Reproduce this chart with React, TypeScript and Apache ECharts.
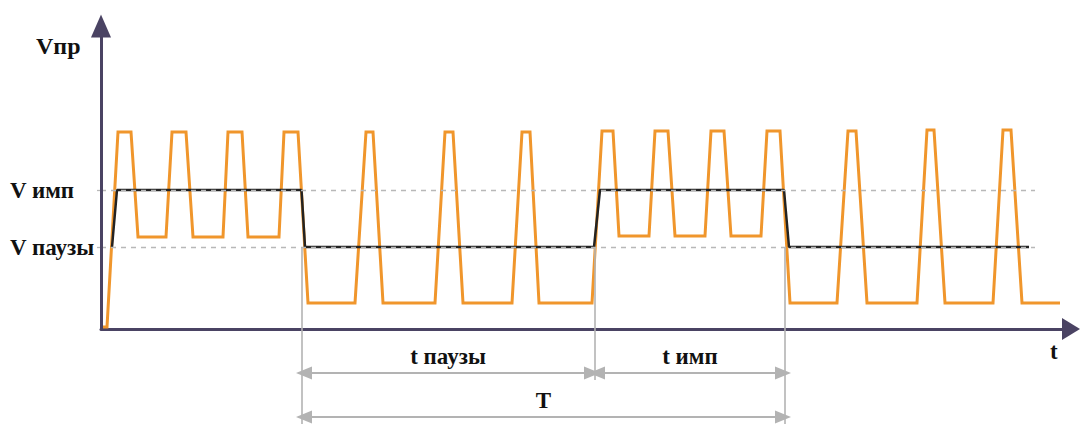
import React, { useEffect, useRef } from "react";
import * as echarts from "echarts";

// time (1 unit ≈ 10 px), voltage (arbitrary units)
const PULSE_WAVE: [number, number][] = [
  [0.1, 0.2], [0.6, 0.2], [1.7, 19.7], [3.0, 19.7], [3.7, 9.2], [6.5, 9.2],
  [7.1, 19.7], [8.5, 19.7], [9.2, 9.2], [12.2, 9.2], [12.7, 19.7], [14.1, 19.7],
  [14.7, 9.2], [17.8, 9.2], [18.3, 19.7], [19.7, 19.7], [20.7, 2.6], [25.4, 2.6],
  [26.5, 19.7], [27.2, 19.7], [28.2, 2.6], [33.4, 2.6], [34.4, 19.7], [35.2, 19.7],
  [36.2, 2.6], [41.1, 2.6], [42.1, 19.7], [42.9, 19.7], [43.8, 2.6], [49.1, 2.6],
  [50.1, 19.8], [51.2, 19.8], [51.8, 9.3], [54.8, 9.3], [55.4, 19.8], [56.7, 19.8],
  [57.4, 9.3], [60.4, 9.3], [61.0, 19.8], [62.3, 19.8], [63.0, 9.3], [66.0, 9.3],
  [66.6, 19.8], [67.9, 19.8], [68.9, 2.6], [73.6, 2.6], [74.7, 19.8], [75.5, 19.8],
  [76.6, 2.6], [81.6, 2.6], [82.6, 19.9], [83.3, 19.9], [84.4, 2.6], [89.2, 2.6],
  [90.2, 19.9], [91.0, 19.9], [92.1, 2.6], [95.9, 2.6],
];

const BASE_CURRENT: [number, number][] = [
  [1.1, 8.2], [1.6, 13.9], [20.05, 13.9], [20.4, 8.2], [49.3, 8.2],
  [49.9, 13.9], [68.3, 13.9], [68.8, 8.2], [92.8, 8.2],
];

const V_IMP = 13.9;
const V_PAUSE = 8.2;
const LEVEL_NAMES = { imp: "V имп", pause: "V паузы" };
const GUIDE_END = 93.4;
const PHASE_EDGES = [20.1, 49.4, 68.4];
const EDGE_BOTTOMS = [-9.5, -5.1, -9.5];
const DIM_ROW_1 = -4.4;
const DIM_ROW_2 = -8.8;
const DIM_LABELS = ["t паузы", "t имп", "T"];
const Y_AXIS_TOP = 30.3;
const T_MAX = 97;
const Y_MIN = -9.5;
const Y_MAX = 32;
const AXIS_NAMES = { y: "Vпр", x: "t" };

const AXIS_COLOR = "#4a4363";
const ORANGE = "#F0962C";
const DIM_COLOR = "#b3b3b3";
const SERIF = "Times New Roman";

export default function App() {
  const ref = useRef<HTMLDivElement>(null);

  useEffect(() => {
    if (!ref.current) return;
    const chart = echarts.init(ref.current, null, { renderer: "svg" });

    const dashed = (v: number) => [
      { coord: [0, v], lineStyle: { color: "#b8b8b8", width: 1.3, type: [5, 5] } },
      { coord: [GUIDE_END, v] },
    ];
    const vertical = (i: number) => [
      { coord: [PHASE_EDGES[i], V_PAUSE], lineStyle: { color: DIM_COLOR, width: 1.6, type: "solid" } },
      { coord: [PHASE_EDGES[i], EDGE_BOTTOMS[i]] },
    ];
    const textStyle = {
      fontFamily: SERIF,
      fontWeight: "bold",
      fontSize: 23,
      color: "#111",
    };
    const dim = (a: number, b: number, y: number, text: string) => [
      {
        coord: [a, y],
        symbol: "triangle",
        symbolSize: [13, 16],
        lineStyle: { color: DIM_COLOR, width: 2.2, type: "solid" },
        itemStyle: { color: DIM_COLOR },
        label: {
          show: true,
          position: "middle",
          distance: 5,
          formatter: text,
          ...textStyle,
        },
      },
      { coord: [b, y], symbol: "triangle", symbolSize: [13, 16] },
    ];

    const option: any = {
      animation: false,
      textStyle: { fontFamily: SERIF },
      grid: { left: 101, right: 10, top: 9, bottom: 0 },
      xAxis: {
        type: "value",
        min: 0,
        max: T_MAX,
        axisLine: {
          onZero: true,
          symbol: ["none", "triangle"],
          symbolSize: [22, 18],
          lineStyle: { color: AXIS_COLOR, width: 3 },
        },
        axisTick: { show: false },
        axisLabel: { show: false },
        splitLine: { show: false },
      },
      yAxis: {
        type: "value",
        min: Y_MIN,
        max: Y_MAX,
        axisLine: { show: false },
        axisTick: {
          show: true,
          customValues: [V_PAUSE, V_IMP],
          length: 4,
          lineStyle: { color: "#b8b8b8", width: 1.3 },
        },
        axisLabel: {
          show: true,
          customValues: [V_PAUSE, V_IMP],
          formatter: (v: number) => (Math.abs(v - V_IMP) < 0.01 ? LEVEL_NAMES.imp : LEVEL_NAMES.pause),
          align: "left",
          margin: 91,
          ...textStyle,
        },
        splitLine: { show: false },
      },
      graphic: [
        {
          type: "text",
          left: 36,
          top: 34,
          style: { text: AXIS_NAMES.y, font: `bold 24px ${SERIF}`, fill: "#111" },
        },
        {
          type: "text",
          left: 1050,
          top: 340,
          style: { text: AXIS_NAMES.x, font: `bold 23px ${SERIF}`, fill: "#111" },
        },
      ],
      series: [
        {
          type: "line",
          name: "guides",
          data: [],
          z: 1,
          silent: true,
          markLine: {
            silent: true,
            animation: false,
            symbol: ["none", "none"],
            label: { show: false },
            emphasis: { disabled: true },
            data: [
              dashed(V_IMP),
              dashed(V_PAUSE),
              vertical(0),
              vertical(1),
              vertical(2),
              dim(PHASE_EDGES[0] + 0.2, PHASE_EDGES[1] - 0.3, DIM_ROW_1, DIM_LABELS[0]),
              dim(PHASE_EDGES[1] + 0.2, PHASE_EDGES[2] - 0.2, DIM_ROW_1, DIM_LABELS[1]),
              dim(PHASE_EDGES[0] + 0.2, PHASE_EDGES[2] - 0.2, DIM_ROW_2, DIM_LABELS[2]),
              [
                {
                  coord: [0, 0],
                  symbol: "none",
                  lineStyle: { color: AXIS_COLOR, width: 3, type: "solid" },
                  itemStyle: { color: AXIS_COLOR },
                },
                { coord: [0, Y_AXIS_TOP], symbol: "triangle", symbolSize: [20, 23], itemStyle: { color: AXIS_COLOR } },
              ],
            ],
          },
        },
        {
          type: "line",
          name: "pulse",
          data: PULSE_WAVE,
          z: 2,
          showSymbol: false,
          symbol: "none",
          lineStyle: { color: ORANGE, width: 3, join: "miter" },
        },
        {
          type: "line",
          name: "base",
          data: BASE_CURRENT,
          z: 3,
          showSymbol: false,
          symbol: "none",
          lineStyle: { color: "#232323", width: 2.5 },
        },
      ],
    };

    chart.setOption(option);
    return () => chart.dispose();
  }, []);

  return (
    <div
      ref={ref}
      style={{ position: "fixed", left: 0, top: 0, width: 1081, height: 424, background: "#fff" }}
    />
  );
}
